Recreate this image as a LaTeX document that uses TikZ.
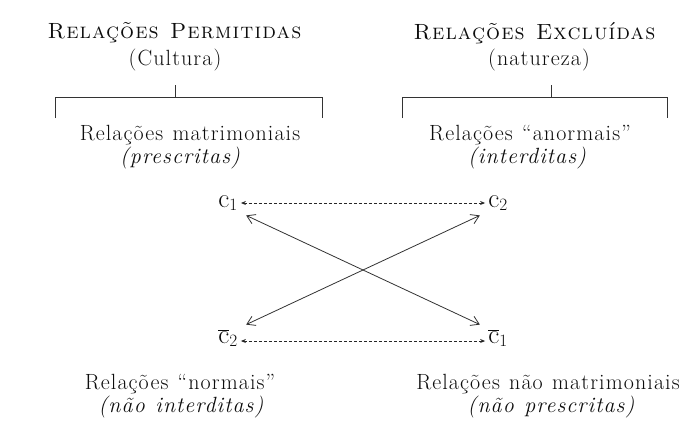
\documentclass[tikz,border=0pt]{standalone}
\usepackage{fontspec}
\setmainfont{Latin Modern Roman}[LetterSpace=5, WordSpace=1.2,
  SmallCapsFont={Latin Modern Roman Caps}, SmallCapsFeatures={LetterSpace=5, WordSpace=1.2}]
\usetikzlibrary{arrows.meta}
\begin{document}
\begin{tikzpicture}[x=1pt,y=-1pt,
  txt/.style={font=\fontsize{22}{24}\selectfont, text=black!95, inner sep=0pt, align=center},
  it/.style={txt, font=\fontsize{22}{24}\selectfont\itshape},
  var/.style={font=\fontsize{27}{29}\selectfont, text=black!95, inner sep=1pt},
  brk/.style={draw=black!80, line width=0.8pt},
  dashline/.style={draw=black!85, line width=0.8pt, densely dashed, shorten <=2pt, shorten >=2pt, {Stealth[length=5pt,width=4pt]}-{Stealth[length=5pt,width=4pt]}},
  diag/.style={draw=black!80, line width=0.8pt, shorten <=8pt, shorten >=8pt, {Straight Barb[length=8pt,width=10pt]}-{Straight Barb[length=8pt,width=10pt]}}]
\useasboundingbox[fill=white] (0,0) rectangle (700,423);
% left header
\node[txt] (pt) at (175,33) {\textsc{Relações Permitidas}};
\node[txt] (pc) at (175,60) {(Cultura)};
\coordinate (ptop) at (175,85);
\coordinate (pmid) at (175,97);
\coordinate (pl) at (55,97);
\coordinate (pr) at (322,97);
\coordinate (pld) at (55,118);
\coordinate (prd) at (322,118);
\draw[brk] (ptop) -- (pmid);
\draw[brk] (pld) -- (pl) -- (pr) -- (prd);
\node[txt] (pm) at (190,135) {Relações matrimoniais};
\node[it] (pp) at (180,158) {(prescritas)};
% right header
\node[txt] (et) at (535,33) {\textsc{Relações Excluídas}};
\node[txt] (en) at (539,60) {(natureza)};
\coordinate (etop) at (551,85);
\coordinate (emid) at (551,97);
\coordinate (el) at (402,97);
\coordinate (er) at (667,97);
\coordinate (eld) at (402,118);
\coordinate (erd) at (667,118);
\draw[brk] (etop) -- (emid);
\draw[brk] (eld) -- (el) -- (er) -- (erd);
\node[txt] (ea) at (530,135) {Relações ``anormais''};
\node[it] (ei) at (527,158) {(interditas)};
% variables
\node[var] (c1) at (228,203) {$\mathrm{c}_1$};
\node[var] (c2) at (498,203) {$\mathrm{c}_2$};
\node[var] (nc2) at (228,338) {$\overline{\mathrm{c}}_2$};
\node[var] (nc1) at (498,338) {$\overline{\mathrm{c}}_1$};
\draw[dashline] (c1.east |- 0,203) -- (c2.west |- 0,203);
\draw[dashline] (nc2.east |- 0,341) -- (nc1.west |- 0,341);
\draw[diag] (c1.south east) -- (nc1.north west);
\draw[diag] (nc2.north east) -- (c2.south west);
% bottom labels
\node[txt] (bn) at (180,384) {Relações ``normais''};
\node[it] (bi) at (181,407) {(não interditas)};
\node[txt] (bm) at (548,384) {Relações não matrimoniais};
\node[it] (bp) at (551,407) {(não prescritas)};
\end{tikzpicture}
\end{document}
